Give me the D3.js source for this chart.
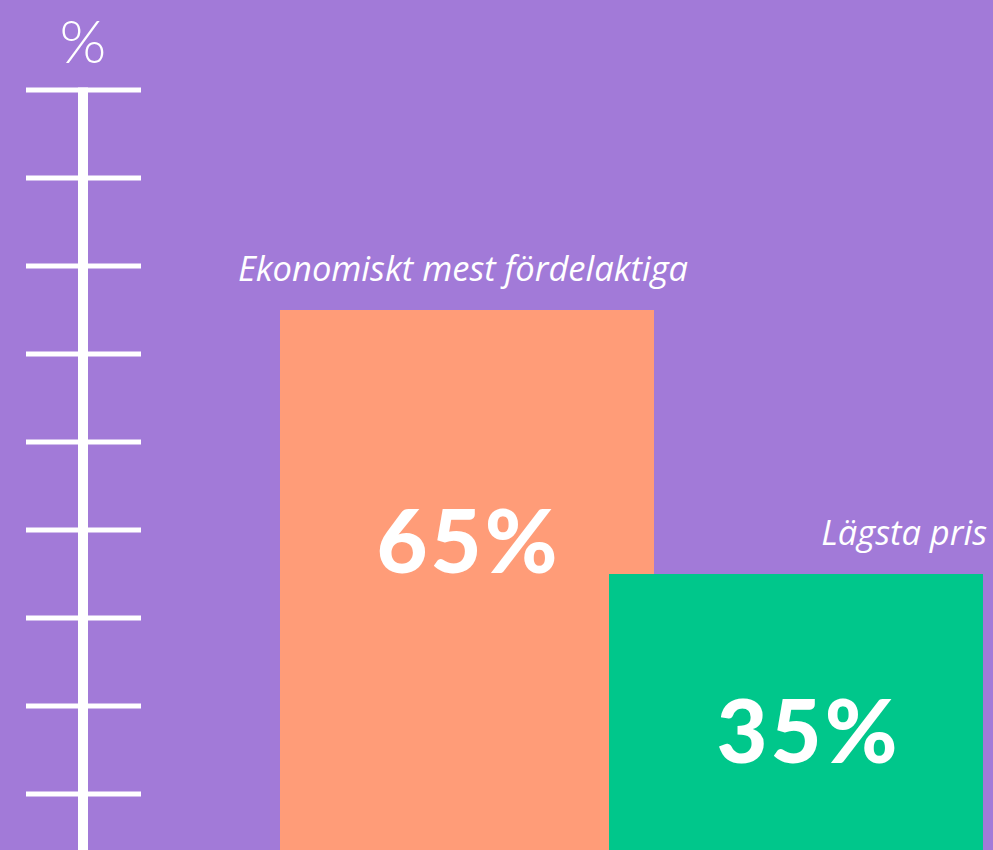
<!DOCTYPE html>
<html lang="sv">
<head>
<meta charset="UTF-8">
<title>Tilldelningsgrund</title>
<style>
    html, body { margin: 0; padding: 0; background: #a27ad8; }
    svg { display: block; }
</style>
</head>
<body>
<div id="chart"></div>
<script src="https://d3js.org/d3.v7.min.js"></script>
<script>
    const categories = ["Ekonomiskt mest fördelaktiga", "Lägsta pris"];
    const values = [65, 35];
    const valueLabels = ["65%", "35%"];
    const tickValues = [10, 20, 30, 40, 50, 60, 70, 80, 90];
    const axisTitle = "%";

    const width = 993, height = 850;
    const colors = ["#ff9c78", "#00c78b"];
    const barWidth = 374;

    const svg = d3.select("#chart").append("svg")
        .attr("width", width)
        .attr("height", height);

    svg.append("rect").attr("width", width).attr("height", height).attr("fill", "#a27ad8");

    const y = d3.scaleLinear().domain([0, 100]).range([882, 2]);
    const x = d3.scalePoint().domain(categories).range([467, 796]);

    // axis: thick vertical line with wide ticks
    const axisX = 83;
    svg.append("line")
        .attr("x1", axisX).attr("x2", axisX)
        .attr("y1", y(90) - 2.5).attr("y2", height)
        .attr("stroke", "#fff").attr("stroke-width", 10);

    svg.selectAll(".tick")
        .data(tickValues)
        .enter().append("line")
        .attr("class", "tick")
        .attr("x1", 26).attr("x2", 141)
        .attr("y1", d => y(d)).attr("y2", d => y(d))
        .attr("stroke", "#fff").attr("stroke-width", 5);

    svg.append("text")
        .attr("x", axisX).attr("y", 63)
        .attr("text-anchor", "middle")
        .attr("fill", "#fff")
        .style("font-family", "Lato, sans-serif")
        .style("font-weight", 300)
        .style("font-size", "60px")
        .text(axisTitle);

    const data = categories.map((c, i) => ({ cat: c, value: values[i], label: valueLabels[i], color: colors[i] }));

    svg.selectAll(".bar")
        .data(data)
        .enter().append("rect")
        .attr("class", "bar")
        .attr("x", d => x(d.cat) - barWidth / 2)
        .attr("y", d => y(d.value))
        .attr("width", barWidth)
        .attr("height", d => height - y(d.value))
        .attr("fill", d => d.color);

    // category labels (italic, above each bar)
    const catPos = [
        { anchor: "middle", dx: -4 },
        { anchor: "end", dx: barWidth / 2 + 4 }
    ];
    svg.selectAll(".cat")
        .data(data)
        .enter().append("text")
        .attr("class", "cat")
        .attr("x", (d, i) => x(d.cat) + catPos[i].dx)
        .attr("y", d => y(d.value) - 29)
        .attr("text-anchor", (d, i) => catPos[i].anchor)
        .attr("fill", "#fff")
        .style("font-family", "'Open Sans', sans-serif")
        .style("font-style", "italic")
        .style("font-weight", 400)
        .style("font-size", "34.5px")
        .text(d => d.cat);

    // big value labels inside bars
    const valPos = [{ dx: 0, dy: 263 }, { dx: 11, dy: 189 }];
    const spacing = 3;
    svg.selectAll(".val")
        .data(data)
        .enter().append("text")
        .attr("class", "val")
        .attr("x", (d, i) => x(d.cat) + valPos[i].dx + spacing / 2)
        .attr("y", (d, i) => y(d.value) + valPos[i].dy)
        .attr("text-anchor", "middle")
        .attr("fill", "#fff")
        .style("font-family", "Lato, sans-serif")
        .style("font-weight", 900)
        .style("font-size", "88px")
        .style("letter-spacing", spacing + "px")
        .text(d => d.label);
</script>
</body>
</html>
